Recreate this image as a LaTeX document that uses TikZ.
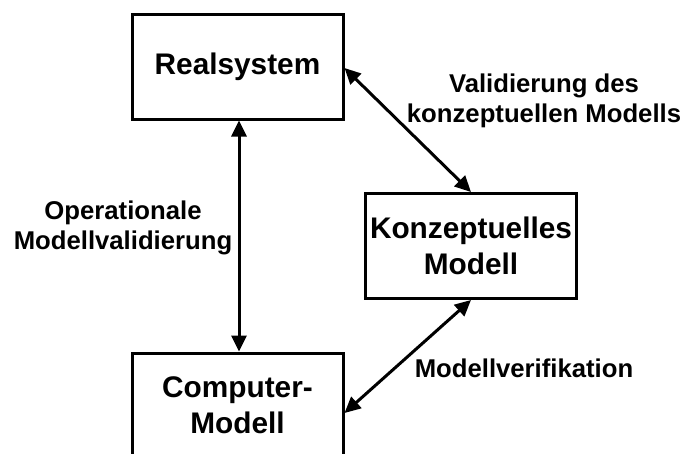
\documentclass[tikz,border=0pt]{standalone}
\usepackage{fontspec}
\setmainfont{Liberation Sans}
\usetikzlibrary{arrows.meta}
\begin{document}
\begin{tikzpicture}[x=1pt,y=-1pt,
  box/.style={draw, line width=3pt, minimum width=211pt, minimum height=105pt, inner sep=0pt, align=center, font=\fontsize{29.8}{36}\selectfont\bfseries},
  lbl/.style={align=center, font=\fontsize{25.7}{30}\selectfont\bfseries},
  dbl/.style={line width=3pt, {Triangle[length=16pt,width=15pt]}-{Triangle[length=16pt,width=15pt]}}]
\useasboundingbox (0,0) rectangle (685,453);
\node[box] (R) at (237.5,66.5) {Realsystem};
\node[box] (K) at (471,246) {Konzeptuelles\\Modell};
\node[box] (C) at (237.5,405.5) {Computer-\\Modell};
\draw[dbl] ([xshift=1.5pt]R.south) -- ([xshift=1.5pt]C.north);
\draw[dbl] ([yshift=-1.5pt]R.east) -- (K.north);
\draw[dbl] ([yshift=-7.5pt]C.east) -- (K.south);
\node[lbl] (L1) at (544,101) {Validierung des\\konzeptuellen Modells};
\node[lbl] (L2) at (123,228) {Operationale\\Modellvalidierung};
\node[lbl] (L3) at (524,368) {Modellverifikation};
\end{tikzpicture}
\end{document}
